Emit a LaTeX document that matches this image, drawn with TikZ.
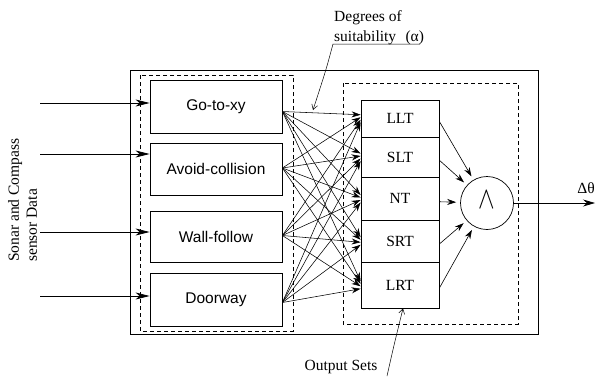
\documentclass[tikz,border=0pt]{standalone}
\usepackage{fontspec}
\usepackage{graphicx}
\setmainfont{Liberation Serif}
\newfontfamily\sansf{Liberation Sans}
\usetikzlibrary{arrows.meta,calc}
\begin{document}
\begin{tikzpicture}[x=1pt,y=-1pt,
  font=\fontsize{15.5}{18}\selectfont,
  frame/.style={line width=0.8pt},
  dbox/.style={dash pattern=on 4pt off 3pt, line width=0.6pt},
  behav/.style={draw, line width=0.8pt, minimum width=132pt, inner sep=0pt,
    font=\sansf\fontsize{15.5}{18}\selectfont},
  cell/.style={draw, line width=0.8pt, minimum width=78pt, inner sep=0pt},
  inarr/.style={line width=0.8pt, -{Stealth[length=14pt,width=7pt,inset=4pt]}},
  fan/.style={line width=0.55pt, -{Stealth[length=9pt,width=6pt]}},
  carr/.style={line width=0.6pt, -{Stealth[length=9pt,width=6pt]}, shorten >=4pt},
  lead/.style={line width=0.5pt, -{Straight Barb[length=5pt,width=6pt]}}
]
\useasboundingbox (0,0) rectangle (596,376);

% frames
\draw[frame] (130,70) rectangle (538,334);
\draw[dbox] (140,75) rectangle (293,331);
\draw[dbox] (343,83) rectangle (518,324);

% behaviour boxes
\node[behav, minimum height=53pt] (goto)  at (216,106.5) {Go-to-xy};
\node[behav, minimum height=52pt] (avoid) at (216,169)   {Avoid-collision};
\node[behav, minimum height=51pt] (wall)  at (216,236.5) {Wall-follow};
\node[behav, minimum height=53pt] (door)  at (216,299.5) {Doorway};

% output set cells
\node[cell, minimum height=37pt]   (llt) at (400,118.5)  {LLT};
\node[cell, minimum height=40.5pt] (slt) at (400,157.25) {SLT};
\node[cell, minimum height=42.5pt] (nt)  at (400,198.75) {NT};
\node[cell, minimum height=42pt]   (srt) at (400,241)    {SRT};
\node[cell, minimum height=46pt]   (lrt) at (400,285)    {LRT};

% input arrows
\coordinate (in1) at (40,103);
\coordinate (in2) at (40,154);
\coordinate (in3) at (40,232);
\coordinate (in4) at (40,296);
\draw[inarr] (in1) -- (in1 -| goto.west);
\draw[inarr] (in2) -- (in2 -| avoid.west);
\draw[inarr] (in3) -- (in3 -| wall.west);
\draw[inarr] (in4) -- (in4 -| door.west);

% input label
\node[rotate=90, align=left, anchor=north west, inner sep=0pt] (sensor) at (8,262)
  {Sonar and Compass\\sensor Data};

% fan of degrees of suitability
\foreach \s/\d [count=\i] in {goto/5, avoid/-1, wall/-1, door/3}
  \foreach \t in {llt,slt,nt,srt,lrt}
    \draw[fan] ($(\s.east)+(0,\d)$) -- ($(\t.west)+(0,{(\i-2.5)*2.5})$);

% AND node
\node[draw, circle, minimum size=53pt, inner sep=0pt, line width=0.7pt] (andc) at (487,203) {};
\node[inner sep=0pt] (wedge) at (487,200)
  {\scalebox{1}[1.25]{\fontsize{34}{34}\selectfont$\wedge$}};

\foreach \t in {llt,slt,nt,srt,lrt}
  \draw[carr] ($(\t.east)+(0,3)$) -- (andc);

% output
\coordinate (outend) at (595,203);
\draw[line width=0.8pt, -{Stealth[length=12pt,width=7pt]}] (andc.east) -- (outend);
\node (dtheta) at (586,188) {Δθ};

% degrees of suitability label
\node[anchor=base west, inner sep=0pt] (deg1) at (334,21) {Degrees of};
\node[anchor=base west, inner sep=0pt] (deg2) at (334,41) {suitability\hspace{0.6em}(α)};
\coordinate (alphatip) at (313,110);
\draw[lead] ($(deg2.base east)+(-4,3)$) -- ($(deg2.base west)+(-1,3)$)
  .. controls (326,70) .. (alphatip);

% output sets label
\node (os) at (341,367) {Output Sets};
\coordinate (osfoot) at (387,376);
\draw[lead] (osfoot) .. controls (394,345) .. ([xshift=3pt]lrt.south);
\end{tikzpicture}
\end{document}
